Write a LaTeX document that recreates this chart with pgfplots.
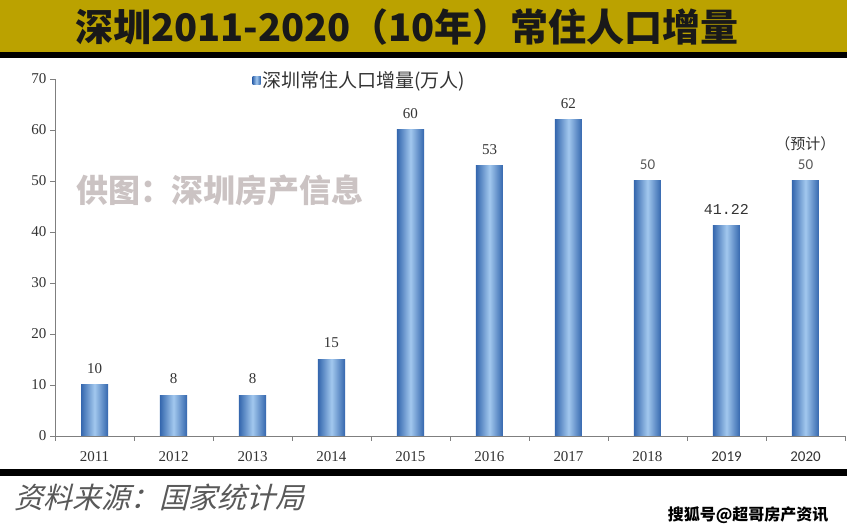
\documentclass[border=0pt]{standalone}
\usepackage{fontspec}
\setmainfont{Liberation Serif}
\newfontfamily\cjk{Noto Sans CJK SC}
\newfontfamily\cjkit[FakeSlant=0.25]{Noto Sans CJK SC}
\newfontfamily\calfont{Carlito}
\newfontfamily\monofont{Liberation Mono}
\usepackage{pgfplots}
\usepackage{pgfplotstable}
\pgfplotsset{compat=1.18}

\definecolor{banner}{HTML}{BBA200}
\definecolor{bardark}{HTML}{3567AE}
\definecolor{barlight}{HTML}{A2C8EE}
\definecolor{wm}{HTML}{CBC3C3}
\definecolor{axgray}{HTML}{7F7F7F}

% 年份序号  增量(万人)  柱顶标注
\pgfplotstableread{
x y label
0 10 10
1 8 8
2 8 8
3 15 15
4 60 60
5 53 53
6 62 62
7 50 {\calfont\color{black!65}50}
8 41.22 {\monofont 41.22}
9 50 {{\cjk （预计）}\\{\calfont\color{black!65}50}}
}\datatable

\begin{document}
\begin{tikzpicture}
% 背景与标题栏
\fill[white] (0,0) rectangle (847pt,530pt);
\fill[banner] (0,478pt) rectangle (847pt,530pt);
\fill[black] (0,472pt) rectangle (847pt,478pt);
\fill[black] (0,54pt) rectangle (847pt,61pt);
\node[font=\cjk\bfseries\fontsize{38}{38}\selectfont, text=black!90] at (407pt,503pt)
  {深圳2011-2020（10年）常住人口增量};
% 水印
\node[font=\cjk\bfseries\fontsize{32}{32}\selectfont, text=wm] at (220pt,340pt)
  {供图：深圳房产信息};

\begin{axis}[
  at={(55pt,94pt)}, anchor=south west,
  scale only axis, width=790pt, height=357pt,
  xmin=-0.5, xmax=9.5, ymin=0, ymax=70,
  ybar, bar width=27pt,
  axis x line*=bottom, axis y line*=left,
  axis line style={axgray, line width=0.6pt},
  xtick={0,...,9},
  xticklabels={\mbox{2011},\mbox{2012},\mbox{2013},\mbox{2014},\mbox{2015},
    \mbox{2016},\mbox{2017},\mbox{2018},\mbox{\calfont 2019},\mbox{\calfont 2020}},
  xtick style={draw=none},
  extra x ticks={-0.5,0.5,...,9.5},
  extra x tick labels={},
  extra x tick style={xtick style={draw=axgray}},
  ytick={0,10,...,70},
  tick align=outside,
  major tick length=5pt,
  tick style={axgray, line width=0.6pt},
  /pgf/number format/assume math mode=true,
  ticklabel style={font=\fontsize{15}{15}\selectfont, text=black!80},
  xticklabel style={yshift=-7pt},
  legend entries={深圳常住人口增量(万人)},
  legend style={at={(0.386,0.997)}, anchor=center, draw=none, fill=none,
    font=\cjk\fontsize{19}{19}\selectfont, text=black!80},
  legend image code/.code={\fill[bardark!60!barlight] (0pt,-4pt) rectangle (8pt,4pt);},
]
\pgfplotsinvokeforeach{0,...,9}{
  \addplot[draw=none, left color=bardark, right color=bardark, middle color=barlight,
    bar shift=0pt, restrict x to domain=#1:#1,
    nodes near coords, point meta=explicit symbolic,
    every node near coord/.append style={font=\fontsize{15}{20}\selectfont,
      text=black!80, yshift=8pt, align=center}]
  table[x=x, y=y, meta=label] {\datatable};
}
\end{axis}

% 底部文字
\node[font=\cjkit\fontsize{29}{29}\selectfont, text=black!65] at (160pt,33pt)
  {资料来源：国家统计局};
\node[anchor=east, font=\cjk\bfseries\fontsize{16}{16}\selectfont, text=black] at (832pt,15pt)
  {搜狐号@超哥房产资讯};
\pgfresetboundingbox
\path (0,0) rectangle (847pt,530pt);
\end{tikzpicture}
\end{document}
